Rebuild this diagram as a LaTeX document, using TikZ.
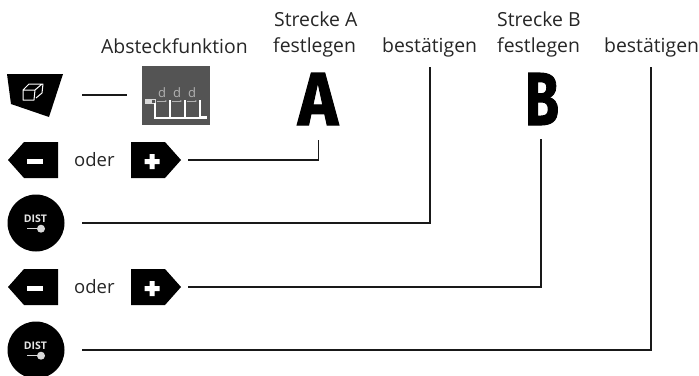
\documentclass[tikz,border=0pt]{standalone}
\usepackage{fontspec}
\usepackage{graphicx}
\usetikzlibrary{arrows.meta}
\setmainfont{Open Sans}
\newfontfamily\heavyfont[FakeBold=1.5]{Fira Sans}
\tikzset{
  x=1pt,y=-1pt,
  lbl/.style={anchor=base west,inner sep=0pt,font=\fontsize{19.4}{22}\selectfont,text=black!85},
  odr/.style={anchor=base west,inner sep=0pt,font=\fontsize{18.5}{22}\selectfont,text=black!85},
  conn/.style={draw=black!90,line width=1.15pt},
  key/.style={fill=black},
  glyph/.style={fill=white},
  big/.style={inner sep=0pt,text=black},
  distlbl/.style={inner sep=0pt,text=black!10,font=\fontsize{10.5}{11}\bfseries\selectfont}
}
\begin{document}
\begin{tikzpicture}
\useasboundingbox (0,0) rectangle (699,375);
\clip (0,0) rectangle (699,375);
% header labels
\node[lbl] (tabs) at (101,53) {Absteckfunktion};
\node[lbl] (tsa) at (274,26) {Strecke A};
\node[lbl] (tfa) at (273,52) {festlegen};
\node[lbl] (tba) at (382,52) {bestätigen};
\node[lbl] (tsb) at (497,26) {Strecke B};
\node[lbl] (tfb) at (497,52) {festlegen};
\node[lbl] (tbb) at (604,52) {bestätigen};
% big letters
\node[big] (bigA) at (318,99) {\resizebox{40pt}{52pt}{\heavyfont\bfseries A}};
\node[big] (bigB) at (542,99) {\resizebox{34pt}{52pt}{\heavyfont\bfseries B}};
% mode key
\path[key] (7,74) -- (63,74) -- (49,117) -- (11,104) -- cycle;
\draw[white,line width=1pt,line join=round] (23,90) -- (35,90) -- (34,100) -- (23,100) -- cycle
  (23,90) -- (29,84) -- (43,84) -- (42,93) -- (36,98)
  (35,90) -- (42,84);
\coordinate (modeEnd) at (82,95);
\coordinate (imgStart) at (127,95);
\draw[conn] (modeEnd) -- (imgStart);
% display image
\fill[black!67] (142,66) rectangle (210,125);
\foreach \x/\n in {162/d1,177/d2,192/d3}
  \node[inner sep=0pt,text=black!30,font=\fontsize{13}{13}\selectfont] (\n) at (\x,93) {d};
\draw[black!30,line width=.6pt,-{Stealth[length=2pt]}] (157,101) -- (167,101);
\draw[black!30,line width=.6pt,-{Stealth[length=2pt]}] (172,101) -- (182,101);
\draw[black!30,line width=.6pt,-{Stealth[length=2pt]}] (187,101) -- (197,101);
\fill[black!15] (145,99) rectangle (152,103.5);
\draw[black!15,line width=.6pt] (145,99) rectangle (155.5,103.5);
\draw[white,line width=1.2pt] (155,103) -- (155,118) -- (201,118)
  (170,100) -- (170,118) (185,100) -- (185,118) (200,100) -- (200,118);
\fill[white] (201,116) rectangle (207,118.8);
% row 1 minus / plus
\path[key] (8,160) -- (24,142) -- (58,142) -- (58,178) -- (24,178) -- cycle;
\fill[glyph] (27,159) rectangle (43,164);
\node[odr] (oder1) at (74,166) {oder};
\path[key] (131,142) -- (165,142) -- (181,160) -- (165,178) -- (131,178) -- cycle;
\fill[glyph] (144.5,159) rectangle (159.5,164) (149.5,154) rectangle (154.5,169);
\coordinate (p1) at (188,160);
\coordinate (a1) at (318.5,160);
\coordinate (a2) at (318.5,140);
\draw[conn] (p1) -- (a1) -- (a2);
% row 2 dist
\fill[black] (36,223) circle (28.5);
\node[distlbl] (dist1) at (35.5,218.5) {DIST};
\draw[black!15,line width=1.5pt] (27,228.7) -- (38,228.7);
\fill[black!15] (41,228.7) circle (4);
\coordinate (d1s) at (82,223);
\coordinate (d1c) at (430,223);
\coordinate (d1e) at (430,67);
\draw[conn] (d1s) -- (d1c) -- (d1e);
% row 3 minus / plus
\path[key] (8,287) -- (24,269) -- (58,269) -- (58,305) -- (24,305) -- cycle;
\fill[glyph] (27,286) rectangle (43,291);
\node[odr] (oder2) at (74,293) {oder};
\path[key] (131,269) -- (165,269) -- (181,287) -- (165,305) -- (131,305) -- cycle;
\fill[glyph] (144.5,286) rectangle (159.5,291) (149.5,281) rectangle (154.5,296);
\coordinate (p2) at (188,287);
\coordinate (b1) at (541,287);
\coordinate (b2) at (541,139);
\draw[conn] (p2) -- (b1) -- (b2);
% row 4 dist
\fill[black] (36,350) circle (28.5);
\node[distlbl] (dist2) at (35.5,345.5) {DIST};
\draw[black!15,line width=1.5pt] (27,355.7) -- (38,355.7);
\fill[black!15] (41,355.7) circle (4);
\coordinate (d2s) at (82,350);
\coordinate (d2c) at (651,350);
\coordinate (d2e) at (651,67);
\draw[conn] (d2s) -- (d2c) -- (d2e);
\end{tikzpicture}
\end{document}
